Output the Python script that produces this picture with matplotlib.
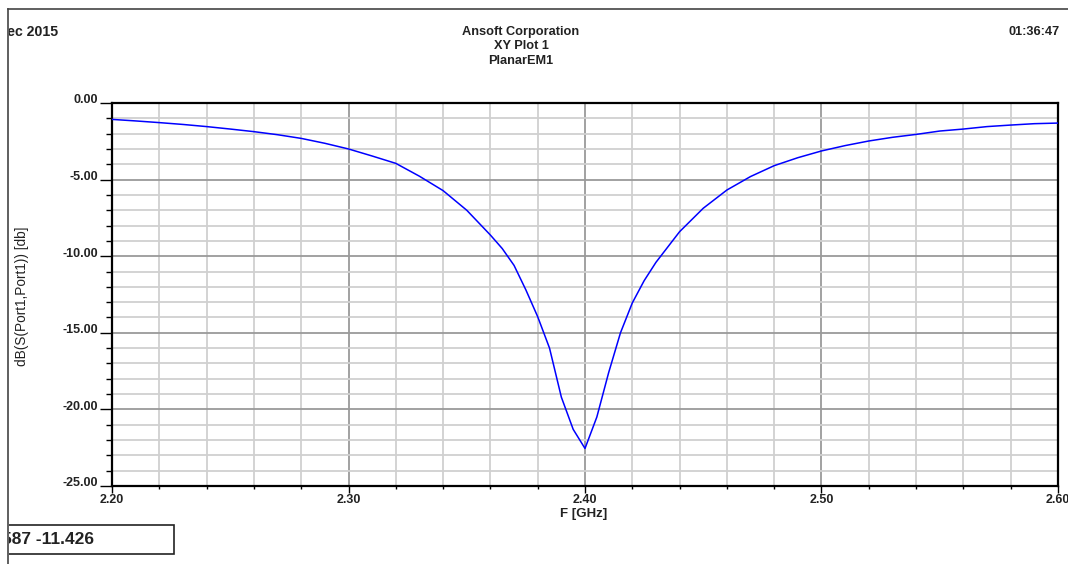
import numpy as np
import matplotlib
matplotlib.use("Agg")
import matplotlib.pyplot as plt
from matplotlib.lines import Line2D
from matplotlib.patches import Rectangle
from matplotlib.transforms import ScaledTranslation
from matplotlib.ticker import MultipleLocator, FormatStrFormatter

plt.rcParams['font.family'] = ['Liberation Sans', 'DejaVu Sans']

freq_ghz = [2.20, 2.21, 2.22, 2.23, 2.24, 2.25, 2.26, 2.27, 2.28, 2.29,
            2.30, 2.31, 2.32, 2.33, 2.34, 2.35, 2.36, 2.365, 2.37, 2.375,
            2.38, 2.385, 2.39, 2.395, 2.40, 2.405, 2.41, 2.415, 2.42, 2.425,
            2.43, 2.44, 2.45, 2.46, 2.47, 2.48, 2.49, 2.50, 2.51, 2.52,
            2.53, 2.54, 2.55, 2.56, 2.57, 2.58, 2.59, 2.60]
s11_db = [-1.07, -1.17, -1.28, -1.40, -1.54, -1.70, -1.87, -2.07, -2.31, -2.63,
          -3.00, -3.46, -3.94, -4.78, -5.72, -7.00, -8.62, -9.50, -10.60, -12.20,
          -13.95, -16.00, -19.20, -21.30, -22.55, -20.50, -17.60, -15.00, -13.05, -11.60,
          -10.40, -8.40, -6.87, -5.68, -4.80, -4.09, -3.57, -3.13, -2.78, -2.48,
          -2.24, -2.05, -1.83, -1.70, -1.54, -1.44, -1.35, -1.31]

W, H = 1068, 564
fig = plt.figure(figsize=(W / 100, H / 100), dpi=100)

def fx(px):
    return px / W

def fy(py):
    return 1 - py / H

ax = fig.add_axes([fx(112), fy(486), fx(1058) - fx(112), fy(103) - fy(486)])
ax.plot(freq_ghz, s11_db, color='#0000ff', lw=1.1, zorder=3)

ax.set_xlim(2.20, 2.60)
ax.set_ylim(-25, 0)
ax.xaxis.set_major_locator(MultipleLocator(0.1))
ax.xaxis.set_minor_locator(MultipleLocator(0.02))
ax.yaxis.set_major_locator(MultipleLocator(5))
ax.yaxis.set_minor_locator(MultipleLocator(1))
ax.xaxis.set_major_formatter(FormatStrFormatter('%.2f'))
ax.yaxis.set_major_formatter(FormatStrFormatter('%.2f'))

ax.grid(which='minor', color='#d0d0d0', lw=1.3, zorder=0)
ax.grid(which='major', color='#9a9a9a', lw=1.3, zorder=1)
ax.set_axisbelow(True)

for s in ax.spines.values():
    s.set_linewidth(1.6)
    s.set_color('black')

ax.tick_params(axis='y', which='major', direction='out', length=9, width=1.0, pad=1,
               labelsize=9.0)
ax.tick_params(axis='y', which='minor', direction='out', length=4.5, width=1.0)
ax.tick_params(axis='x', which='major', direction='out', length=5, width=1.0, pad=1,
               labelsize=9.0)
ax.tick_params(axis='x', which='minor', direction='out', length=2.5, width=1.0)
up = ScaledTranslation(0, 3 / 72, fig.dpi_scale_trans)
for lab in ax.get_xticklabels() + ax.get_yticklabels():
    lab.set_fontweight('bold')
    lab.set_color('#222222')
for lab in ax.get_yticklabels():
    lab.set_transform(lab.get_transform() + up)

fig.text(fx(584), fy(514), 'F [GHz]', ha='center', va='center',
         fontsize=9.5, fontweight='bold', color='#222222')
fig.text(fx(22), fy(296), 'dB(S(Port1,Port1)) [db]', ha='center', va='center',
         rotation=90, fontsize=9.8, color='#222222')

# header texts
hdr = dict(fontweight='bold', color='#222222', va='center')
fig.text(fx(521), fy(32), 'Ansoft Corporation', ha='center', fontsize=9.2, **hdr)
fig.text(fx(521), fy(46), 'XY Plot 1', ha='center', fontsize=9.2, **hdr)
fig.text(fx(521), fy(61), 'PlanarEM1', ha='center', fontsize=9.2, **hdr)
fig.text(fx(58), fy(32), 'Dec 2015', ha='right', fontsize=10.2, zorder=1, **hdr)
fig.text(fx(1060), fy(32), '01:36:47', ha='right', fontsize=9.2, **hdr)

# marker readout box
fig.add_artist(Rectangle((fx(8), fy(554)), fx(174) - fx(8), fy(525) - fy(554),
                         fill=False, edgecolor='#222222', lw=1.2))
fig.text(fx(1.5), fy(540), '587 -11.426', ha='left', va='center', zorder=1,
         fontsize=12.5, fontweight='bold', color='#222222')

# white strip left of the frame hides the cut-off text parts, like the screenshot
fig.add_artist(Rectangle((0, 0), fx(8.5), 1, facecolor='white', edgecolor='none',
                         zorder=5))

# outer frame lines
fig.add_artist(Line2D([fx(8), fx(1068)], [fy(9), fy(9)], color='#444444', lw=1.2,
                      zorder=6))
fig.add_artist(Line2D([fx(8), fx(8)], [fy(9), fy(564)], color='#444444', lw=1.2,
                      zorder=6))

fig.savefig('out.png', dpi=100)
